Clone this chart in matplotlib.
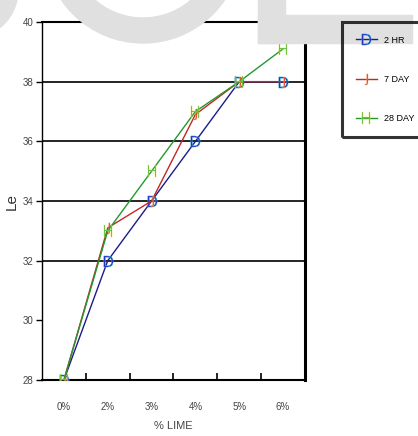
import matplotlib
matplotlib.use("Agg")
import matplotlib.pyplot as plt
from matplotlib.patches import Rectangle, Wedge, Circle
from matplotlib.transforms import IdentityTransform
import numpy as np

# ── data ─────────────────────────────────────────────────────────────────────
categories = ["0%", "2%", "3%", "4%", "5%", "6%"]
hr2   = [28, 32, 34, 36, 38, 38]
day7  = [28, 33.1, 34, 36.9, 38, 38]
day28 = [28, 33, 35, 37, 38, 39.1]
y_ticks = [28, 30, 32, 34, 36, 38, 40]
grid_levels = [32, 34, 36, 38]

FONT = ["Liberation Sans Narrow", "Liberation Sans", "DejaVu Sans"]
plt.rcParams["font.family"] = FONT

fig = plt.figure(figsize=(4.18, 4.36), dpi=100)
W, H = 418, 436

# ── watermark (light grey letters behind the chart) ──────────────────────────
wm = "#e0e0e0"
def px(x, y):
    return x / W, 1 - y / H
# ring of an "O" (pixel coordinates, origin bottom-left)
fig.patches.append(Wedge((143, H + 55.7), 98.7, 180, 360, width=25, color=wm,
                         zorder=0, transform=IdentityTransform()))
# edge of a letter on the left
fig.patches.append(Circle((-30, H + 10), 48, color=wm, zorder=0,
                          transform=IdentityTransform()))
# "L"
fig.patches.append(Rectangle(px(258, 43), 27 / W, 43 / H,
                             transform=fig.transFigure, color=wm, zorder=0))
fig.patches.append(Rectangle(px(258, 43), 154 / W, 28 / H,
                             transform=fig.transFigure, color=wm, zorder=0))

# ── axes ─────────────────────────────────────────────────────────────────────
ax = fig.add_axes([42 / W, 56 / H, 263 / W, 358 / H])
ax.set_facecolor("none")
x = np.arange(len(categories))

ax.plot(x, hr2, color="#1c1c8a", lw=1.0, marker=r"$\mathrm{D}$", ms=8,
        mfc="#2030c0", mec="#40b0e0", mew=0.3, label="2 HR", zorder=3)
ax.plot(x, day7, color="#c02828", lw=1.0, marker=r"$\mathrm{J}$", ms=8,
        mfc="#e04020", mec="#f0a060", mew=0.3, label="7 DAY", zorder=4)
ax.plot(x, day28, color="#22992e", lw=1.0, marker=r"$\mathrm{H}$", ms=8,
        mfc="#30b040", mec="#d0e040", mew=0.3, label="28 DAY", zorder=5)

for g in grid_levels:
    ax.axhline(g, color="black", lw=1.2, zorder=1)

ax.set_xlim(-0.5, len(categories) - 0.5)
ax.set_ylim(28, 40)
ax.set_yticks(y_ticks)
ax.set_yticklabels([str(v) for v in y_ticks], fontsize=7, color="#444")
ax.set_xticks(x)
ax.set_xticklabels(categories, fontsize=7, color="#444")
ax.set_xticks(x[:-1] + 0.5, minor=True)
ax.tick_params(axis="x", which="major", length=0, pad=16)
ax.tick_params(axis="x", which="minor", direction="in", length=5, width=1.2)
ax.tick_params(axis="y", direction="out", length=4, width=1, pad=2)

ax.spines["left"].set_linewidth(1.0)
ax.spines["bottom"].set_linewidth(1.5)
ax.spines["top"].set_linewidth(1.5)
ax.spines["right"].set_linewidth(2.2)

ax.set_xlabel("% LIME", fontsize=8, color="#444", labelpad=6)
ax.set_ylabel("Le", fontsize=11, color="#333", labelpad=3)

leg = fig.legend(loc="upper left", bbox_to_anchor=(342 / W, 1 - 22 / H, 0.2, 0.0),
                 mode="expand", fontsize=6.5, labelspacing=3.35, handlelength=2.4,
                 handletextpad=0.8, borderpad=1.5, borderaxespad=0,
                 fancybox=False, facecolor="none")
leg.get_frame().set_edgecolor("black")
leg.get_frame().set_linewidth(2.2)

fig.savefig("out.png", dpi=100)
